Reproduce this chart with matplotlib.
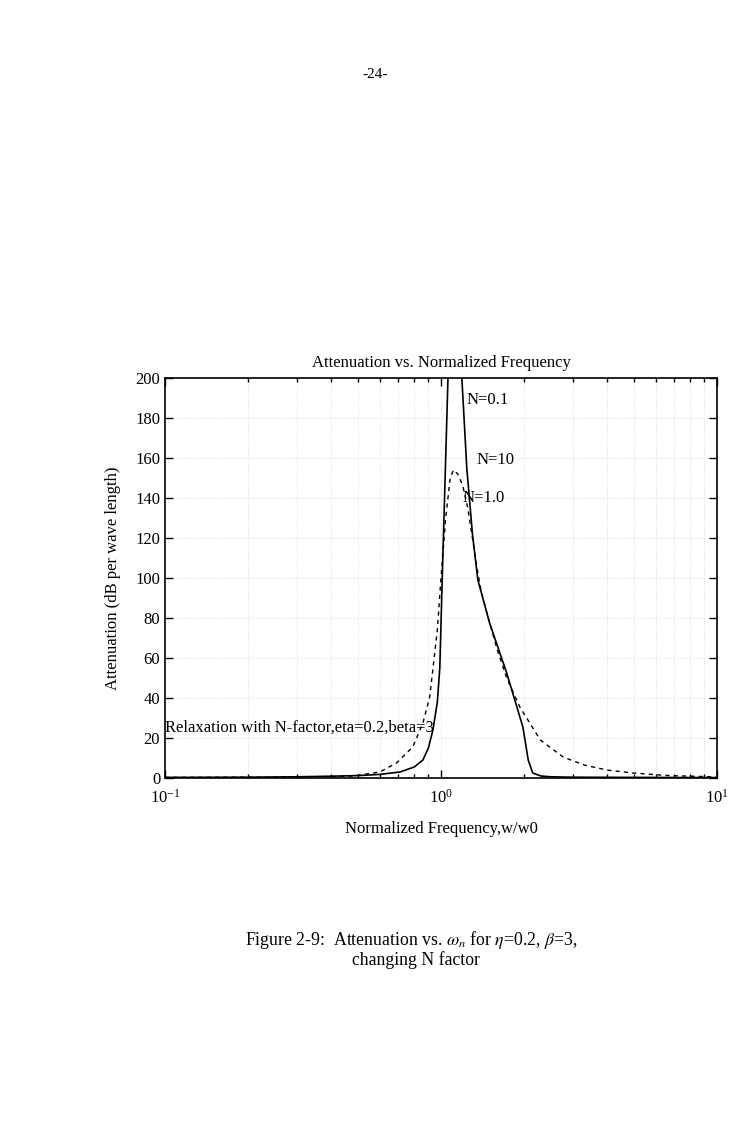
import numpy as np
import matplotlib.pyplot as plt
from matplotlib.ticker import LogLocator, FixedLocator

plt.rcParams['font.family'] = ['Liberation Serif', 'DejaVu Serif']
plt.rcParams['mathtext.fontset'] = 'stix'

# N=0.1 (solid) - leaves the top of the plot near w/w0 = 1.1
x_n01 = [0.1, 0.2, 0.3, 0.4, 0.5, 0.6, 0.71, 0.8, 0.86, 0.9, 0.935, 0.97, 0.99,
         1.01, 1.03, 1.06, 1.09, 1.13, 1.19, 1.24, 1.3, 1.36, 1.5, 1.73, 1.98,
         2.07, 2.15, 2.3, 2.5, 3.0, 5.0, 10.0]
y_n01 = [0.3, 0.4, 0.6, 0.9, 1.2, 1.8, 3.0, 5.5, 9.0, 15.0, 24.0, 38.0, 55.0,
         99.0, 140.0, 200.0, 260.0, 260.0, 200.0, 155.0, 122.0, 99.0, 77.5, 52.5, 25.5,
         9.0, 2.5, 1.0, 0.6, 0.4, 0.3, 0.2]

# N=1.0 / N=10 (dashed)
x_n1 = [0.1, 0.2, 0.3, 0.4, 0.48, 0.6, 0.69, 0.79, 0.86, 0.91, 0.97, 1.0, 1.04,
        1.08, 1.11, 1.15, 1.2, 1.25, 1.3, 1.35, 1.4, 1.47, 1.6, 1.73, 1.93,
        2.29, 2.77, 3.3, 3.99, 4.96, 6.5, 10.0]
y_n1 = [0.3, 0.4, 0.5, 0.7, 1.0, 3.0, 7.5, 15.5, 27.5, 40.5, 74.0, 100.0, 130.0,
        150.0, 154.0, 152.0, 146.0, 135.0, 120.0, 105.0, 93.0, 82.0, 64.0, 50.0, 35.5,
        19.0, 10.5, 6.5, 4.0, 2.5, 1.3, 0.5]

fig = plt.figure(figsize=(7.35, 11.46), dpi=100)
ax = fig.add_axes([165 / 735, 1 - 778 / 1146, (717 - 165) / 735, (778 - 378) / 1146])

ax.plot(x_n01, y_n01, color='black', lw=1.2)
ax.plot(x_n1, y_n1, color='black', lw=1.0, ls=(0, (3, 3)))

ax.set_xscale('log')
ax.set_xlim(0.1, 10)
ax.set_ylim(0, 200)
ax.yaxis.set_major_locator(FixedLocator(np.arange(0, 201, 20)))
ax.xaxis.set_major_locator(LogLocator(base=10))
ax.xaxis.set_minor_locator(LogLocator(base=10, subs=np.arange(2, 10)))
ax.tick_params(which='both', direction='in', top=True, right=True, labelsize=12, width=1)
ax.tick_params(which='major', length=6)
ax.tick_params(which='minor', length=3)
ax.tick_params(axis='x', pad=8)
ax.grid(True, which='both', ls=':', lw=0.6, color='0.85')
for s in ax.spines.values():
    s.set_linewidth(1.2)

ax.set_title('Attenuation vs. Normalized Frequency', fontsize=12, pad=8)
ax.set_xlabel('Normalized Frequency,w/w0', fontsize=12, labelpad=10)
ax.set_ylabel('Attenuation (dB per wave length)', fontsize=12, labelpad=10)

ax.text(1.24, 189, 'N=0.1', fontsize=12, va='center')
ax.text(1.35, 159, 'N=10', fontsize=12, va='center')
ax.text(1.2, 140, 'N=1.0', fontsize=12, va='center')
ax.text(0.1, 25, 'Relaxation with N-factor,eta=0.2,beta=3', fontsize=12, va='center')

fig.text(375 / 735, 1 - 75 / 1146, '-24-', fontsize=11, ha='center', va='center')
fig.text(245 / 735, 1 - 940 / 1146,
         r'Figure 2-9:  Attenuation vs. $\omega_n$ for $\eta$=0.2, $\beta$=3,',
         fontsize=12.8, va='center')
fig.text(352 / 735, 1 - 960 / 1146, 'changing N factor', fontsize=12.8, va='center')

fig.savefig('out.png', dpi=100)
